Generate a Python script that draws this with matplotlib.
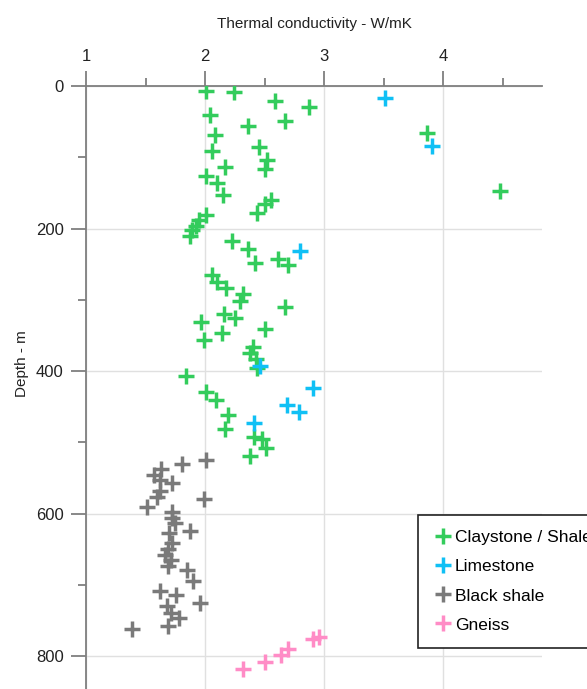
import matplotlib
matplotlib.use("Agg")
from matplotlib import pyplot as plt
from matplotlib.ticker import MultipleLocator

plt.rcParams['font.family'] = ['Liberation Sans', 'DejaVu Sans']

# thermal conductivity (W/mK) and depth (m) per rock type
clay_k = [2.01, 2.24, 2.59, 2.87, 2.04, 2.67, 2.36, 2.08, 2.45, 2.06, 2.52, 2.17, 2.50, 2.01,
          2.10, 2.15, 2.55, 2.50, 2.44, 2.01, 1.95, 1.92, 1.89, 1.87, 2.23, 2.36, 2.61, 2.42,
          2.70, 2.06, 2.10, 2.18, 2.32, 2.29, 2.67, 2.16, 2.25, 1.97, 2.50, 2.14, 1.99, 2.40,
          2.38, 2.43, 2.44, 1.84, 2.01, 2.09, 2.19, 2.17, 2.41, 2.48, 2.51, 2.38, 3.86, 4.48]
clay_d = [7, 9, 21, 29, 40, 49, 56, 69, 86, 91, 104, 114, 117, 126,
          136, 153, 160, 166, 178, 181, 188, 196, 202, 211, 218, 229, 243, 249,
          251, 265, 275, 284, 292, 301, 310, 320, 325, 331, 341, 346, 356, 366,
          375, 383, 396, 407, 429, 441, 461, 481, 493, 495, 508, 519, 66, 147]

lime_k = [3.51, 3.91, 2.80, 2.46, 2.91, 2.69, 2.79, 2.41]
lime_d = [17, 84, 231, 393, 423, 447, 457, 473]

black_k = [2.01, 1.81, 1.63, 1.57, 1.62, 1.72, 1.62, 1.60, 1.99, 1.51, 1.72, 1.72, 1.75, 1.87, 1.70,
           1.72, 1.69, 1.66, 1.71, 1.69, 1.85, 1.90, 1.62, 1.76, 1.96, 1.68, 1.71, 1.78, 1.69, 1.39]
black_d = [525, 530, 538, 546, 553, 557, 568, 576, 580, 591, 597, 606, 613, 625, 627,
           641, 650, 658, 665, 674, 679, 695, 708, 714, 726, 730, 740, 747, 758, 762]

gneiss_k = [2.32, 2.50, 2.64, 2.70, 2.91, 2.96]
gneiss_d = [818, 808, 798, 790, 776, 773]

fig = plt.figure(figsize=(5.87, 6.89), dpi=100)
ax = fig.add_axes([86 / 587, 0, (542 - 86) / 587, (689 - 86) / 689])

ms = 11
mew = 2.5
ax.plot(clay_k, clay_d, '+', color='#33cc5c', ms=ms, mew=mew, label='Claystone / Shale', zorder=3)
ax.plot(lime_k, lime_d, '+', color='#10c0f5', ms=ms, mew=mew, label='Limestone', zorder=3)
ax.plot(black_k, black_d, '+', color='#7a7a7a', ms=ms, mew=mew, label='Black shale', zorder=3)
ax.plot(gneiss_k, gneiss_d, '+', color='#ff8cc6', ms=ms, mew=mew, label='Gneiss', zorder=3)

ax.set_xlim(1, 4.83)
ax.set_ylim(846, 0)

ax.xaxis.tick_top()
ax.xaxis.set_label_position('top')
ax.xaxis.set_major_locator(MultipleLocator(1))
ax.xaxis.set_minor_locator(MultipleLocator(0.5))
ax.yaxis.set_major_locator(MultipleLocator(200))
ax.yaxis.set_minor_locator(MultipleLocator(100))

for side in ['right', 'bottom']:
    ax.spines[side].set_visible(False)
for side in ['top', 'left']:
    ax.spines[side].set_color('#7f7f7f')
    ax.spines[side].set_linewidth(1.3)

ax.tick_params(which='major', direction='out', length=11, width=1.3, color='#7f7f7f',
               labelsize=12, labelcolor='#222222', pad=5)
ax.tick_params(which='minor', direction='out', length=5.5, width=1.3, color='#7f7f7f')
ax.grid(True, which='major', color='#e0e0e0', linewidth=1)
ax.set_axisbelow(True)

ax.set_xlabel('Thermal conductivity - W/mK', fontsize=11, color='#222222', labelpad=15)
ax.set_ylabel('Depth - m', fontsize=11, color='#222222')
ax.yaxis.set_label_coords(-0.125, 0.54)

# legend sits partly outside the figure, as in the original
leg = ax.legend(loc='upper left', bbox_to_anchor=(418 / 587, 1 - 515 / 689),
                bbox_transform=fig.transFigure, fontsize=12.5, numpoints=1,
                handlelength=1.1, handletextpad=0.15, labelspacing=0.8,
                borderpad=0.88, borderaxespad=0, fancybox=False, framealpha=1)
leg.get_frame().set_edgecolor('#222222')
leg.get_frame().set_linewidth(1.2)

fig.savefig('out.png', dpi=100)
